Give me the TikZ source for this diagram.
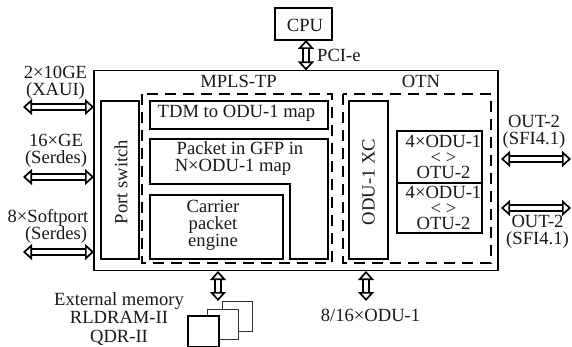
\documentclass[tikz,border=0pt]{standalone}
\usepackage{fontspec}
\setmainfont{Liberation Serif}
\usetikzlibrary{arrows.meta}
\tikzset{
  x=1pt,y=-1pt,
  box/.style={draw=black,line width=1.5pt,rounded corners=0pt},
  thinbox/.style={draw=black!80,line width=1pt,fill=white},
  dashbox/.style={draw=black,line width=1.4pt,dash pattern=on 11pt off 7pt},
  harrow/.style={line width=1.7pt,double=white,double distance=4.5pt,
    {Triangle[open,fill=white,length=9pt,width=16pt,line width=1.7pt]}-{Triangle[open,fill=white,length=9pt,width=16pt,line width=1.7pt]}},
  lbl/.style={inner sep=0pt,align=center,font=\fontsize{18.6}{17}\selectfont,text=black!90},
  lblw/.style={lbl,font=\fontsize{18.6}{18.5}\selectfont},
  lbln/.style={lbl,font=\fontsize{18.6}{15.5}\selectfont},
}
\begin{document}
\begin{tikzpicture}
\useasboundingbox (0,0) rectangle (572,347);
% boxes
\draw[box] (275,8) rectangle (332,40);
\node[lbl] (cpu) at (305,25) {CPU};
\coordinate (cpuS) at (306,40);
\draw[box] (94,70.5) rectangle (498,270.5);
\coordinate (mainN) at (306,70.5);
\draw[dashbox] (142,94) rectangle (332,263);
\draw[dashbox] (343,94) rectangle (491,263);
\node[lbl] (mpls) at (238.5,81) {MPLS-TP};
\node[lbl] (otn) at (421,81) {OTN};
\draw[box] (101,101) rectangle (139,259);
\node[lbl,rotate=90] (port) at (121,182) {Port switch};
\draw[box] (150,101) rectangle (328,129);
\node[lbl] (tdm) at (236.5,113.5) {TDM to ODU-1 map};
\draw[box] (150,139) -- (328,139) -- (328,259) -- (290,259) -- (290,184) -- (150,184) -- cycle;
\node[lbl] (pkt) at (236.5,159) {\hspace*{7pt}Packet in GFP in\\N×ODU-1 map\hspace*{7pt}};
\draw[box] (150,195) rectangle (283,259);
\node[lbl] (car) at (213,225.5) {Carrier\\packet\\engine};
\draw[box] (349,101) rectangle (388,259);
\node[lbl,rotate=90] (xc) at (368.5,182) {ODU-1 XC};
\draw[box,line width=1.2pt] (397,131) rectangle (482,233);
\draw[box,line width=1.2pt] (397,183) -- (482,183);
\node[lbln] (o1) at (443.5,157) {4×ODU-1\\<~>\\OTU-2};
\node[lbln] (o2) at (443.5,208) {4×ODU-1\\<~>\\OTU-2};
% memory
\draw[thinbox] (222,301) rectangle (252,331);
\draw[thinbox] (207,309) rectangle (238,339);
\draw[thinbox,draw=black,line width=1.2pt] (188,316) rectangle (219,346.5);
% side labels
\node[lbl] (l1) at (55.5,83) {2×10GE\\(XAUI)};
\node[lbl] (l2) at (56,151) {16×GE\\(Serdes)};
\node[lbl] (l3) at (52,226) {8×Softport\hspace*{8pt}\\\hspace*{8pt}(Serdes)};
\node[lbl] (r1) at (534,132) {OUT-2\\(SFI4.1)};
\node[lbl] (r2) at (537.5,232) {OUT-2\\(SFI4.1)};
\node[lbl,anchor=west] (pci) at (317,55) {PCI-e};
\node[lblw] (ext) at (119,319) {External memory\\RLDRAM-II\\QDR-II};
\node[lbl] (odu) at (370.5,315) {8/16×ODU-1};
% connectors
\coordinate (a1) at (23,107); \coordinate (a1e) at (94,107);
\coordinate (a2) at (23,177); \coordinate (a2e) at (94,177);
\coordinate (a3) at (23,252); \coordinate (a3e) at (94,252);
\coordinate (b1) at (501,159); \coordinate (b1e) at (571,159);
\coordinate (b2) at (501,208); \coordinate (b2e) at (571,208);
\coordinate (c1) at (218,271); \coordinate (c1e) at (218,301);
\coordinate (c2) at (366,271); \coordinate (c2e) at (366,301);
\draw[harrow] (a1) -- (a1e);
\draw[harrow] (a2) -- (a2e);
\draw[harrow] (a3) -- (a3e);
\draw[harrow] (b1) -- (b1e);
\draw[harrow] (b2) -- (b2e);
\draw[harrow] (c1) -- (c1e);
\draw[harrow] (c2) -- (c2e);
\draw[harrow] (cpuS) -- (mainN);
\end{tikzpicture}
\end{document}
